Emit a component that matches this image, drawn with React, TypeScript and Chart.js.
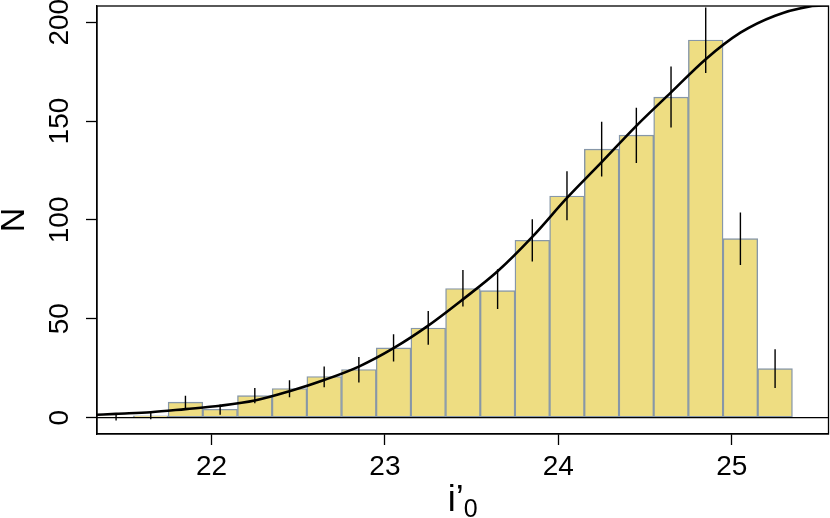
import React, { useEffect, useRef } from "react";
import { Chart, registerables } from "chart.js";

Chart.register(...registerables);

// Histogram bins (centres, width 0.2 mag)
const binCenters = [
  21.45, 21.65, 21.85, 22.05, 22.25, 22.45, 22.65, 22.85, 23.05, 23.25,
  23.45, 23.65, 23.85, 24.05, 24.25, 24.45, 24.65, 24.85, 25.05, 25.25,
];
const counts = [
  0.3, 0.9, 7.8, 4.2, 11.1, 14.7, 20.8, 24.3, 35.3, 45.3,
  65.3, 64.2, 89.7, 112.1, 135.8, 142.9, 162.1, 191.0, 90.5, 24.8,
];
const errLow = [
  -1.5, -0.8, 4.2, 1.4, 7.3, 10.3, 15.4, 17.7, 28.4, 36.8,
  56.2, 54.9, 78.9, 99.8, 121.9, 128.8, 146.7, 174.3, 77.2, 15.0,
];
const errHigh = [
  1.7, 2.7, 11.0, 6.6, 15.0, 18.9, 25.8, 30.7, 42.2, 53.9,
  74.6, 75.1, 100.3, 124.6, 149.6, 156.7, 177.6, 207.5, 103.7, 34.6,
];

// Model curve
const curveX = [
  21.34, 21.45, 21.65, 21.85, 22.05, 22.25, 22.45, 22.65, 22.85, 23.05,
  23.25, 23.45, 23.65, 23.85, 24.05, 24.25, 24.45, 24.65, 24.85, 25.05,
  25.25, 25.45, 25.56,
];
const curveY = [
  1.4, 1.9, 2.7, 4.3, 6.0, 8.6, 13.3, 19.0, 25.8, 35.1,
  46.5, 59.8, 74.0, 91.4, 111.1, 129.2, 147.6, 164.5, 181.3, 194.7,
  203.3, 208.0, 208.6,
];

const xTicks = [22, 23, 24, 25];
const yTicks = [0, 50, 100, 150, 200];
const baseline = 0;

const FONT = "'Liberation Sans', Arial, Helvetica, sans-serif";

export default function App() {
  const ref = useRef<HTMLCanvasElement>(null);

  useEffect(() => {
    if (!ref.current) return;

    const boxPlugin = {
      id: "boxAndTitle",
      afterDatasetDraw(chart: any, args: any) {
        if (args.index !== 2) return;
        const { ctx, chartArea: a } = chart;
        const y = chart.scales.y.getPixelForValue(baseline);
        ctx.save();
        ctx.strokeStyle = "#000";
        ctx.lineWidth = 1.3;
        ctx.beginPath();
        ctx.moveTo(a.left, y);
        ctx.lineTo(a.right, y);
        ctx.stroke();
        ctx.restore();
      },
      afterDraw(chart: any) {
        const { ctx, chartArea: a } = chart;
        ctx.save();
        ctx.strokeStyle = "#000";
        ctx.lineWidth = 1.3;
        ctx.strokeRect(a.left, a.top, a.right - a.left, a.bottom - a.top);

        // x-axis title: i'0 with subscript
        const main = "i\u2019";
        const sub = "0";
        ctx.fillStyle = "#000";
        ctx.textBaseline = "alphabetic";
        ctx.textAlign = "left";
        ctx.font = `36px ${FONT}`;
        const w1 = ctx.measureText(main).width;
        ctx.font = `25px ${FONT}`;
        const w2 = ctx.measureText(sub).width;
        const cx = (a.left + a.right) / 2;
        const x0 = cx - (w1 + w2) / 2;
        ctx.font = `36px ${FONT}`;
        ctx.fillText(main, x0, 511);
        ctx.font = `25px ${FONT}`;
        ctx.fillText(sub, x0 + w1, 517);
        ctx.restore();
      },
    };

    const chart = new Chart(ref.current, {
      type: "bar",
      data: {
        datasets: [
          {
            type: "line",
            data: curveX.map((x, i) => ({ x, y: curveY[i] })),
            borderColor: "#000",
            borderWidth: 2.6,
            pointRadius: 0,
            cubicInterpolationMode: "monotone",
            fill: false,
            order: 0,
          } as any,
          {
            type: "bar",
            data: binCenters.map((x, i) => ({ x, y: [errLow[i], errHigh[i]] })),
            backgroundColor: "#000",
            borderWidth: 0,
            maxBarThickness: 1.4,
            grouped: false,
            order: 1,
          } as any,
          {
            type: "bar",
            data: binCenters.map((x, i) => ({ x, y: counts[i] })),
            backgroundColor: "#eedd82",
            borderColor: "#8797a8",
            borderWidth: 1.4,
            borderSkipped: false,
            barPercentage: 1,
            categoryPercentage: 1,
            grouped: false,
            order: 2,
          } as any,
        ],
      },
      options: {
        animation: false,
        responsive: false,
        layout: { padding: { top: 6, right: 1.5, left: 0, bottom: 0 } },
        plugins: {
          legend: { display: false },
          tooltip: { enabled: false },
        },
        scales: {
          x: {
            type: "linear",
            min: 21.34,
            max: 25.558,
            offset: false,
            afterBuildTicks: (s: any) => {
              s.ticks = xTicks.map((v) => ({ value: v }));
            },
            afterFit: (s: any) => {
              s.height = 84;
              s.paddingLeft = 0;
              s.paddingRight = 0;
            },
            ticks: {
              font: { family: FONT, size: 28 },
              color: "#000",
              padding: 5,
              maxRotation: 0,
              autoSkip: false,
            },
            grid: {
              offset: false,
              drawOnChartArea: false,
              tickLength: 11,
              tickColor: "#000",
              tickWidth: 1.3,
            },
            border: { display: true, color: "#000", width: 1.3 },
          },
          y: {
            type: "linear",
            min: -8.3,
            max: 208.2,
            afterBuildTicks: (s: any) => {
              s.ticks = yTicks.map((v) => ({ value: v }));
            },
            afterFit: (s: any) => {
              s.width = 97;
              s.paddingTop = 0;
              s.paddingBottom = 0;
            },
            ticks: {
              font: { family: FONT, size: 28 },
              color: "#000",
              minRotation: 90,
              maxRotation: 90,
              crossAlign: "center",
              padding: 2,
              autoSkip: false,
            },
            grid: {
              drawOnChartArea: false,
              tickLength: 11,
              tickColor: "#000",
              tickWidth: 1.3,
            },
            border: { display: true, color: "#000", width: 1.3 },
            title: {
              display: true,
              text: "N",
              color: "#000",
              font: { family: FONT, size: 34, lineHeight: 0.8 },
              padding: { top: 0.7, bottom: 0 },
            },
          },
        },
      } as any,
      plugins: [boxPlugin],
    });

    return () => chart.destroy();
  }, []);

  return (
    <div style={{ position: "absolute", left: 0, top: 0, width: 830, height: 518 }}>
      <canvas ref={ref} width={830} height={518} />
    </div>
  );
}
